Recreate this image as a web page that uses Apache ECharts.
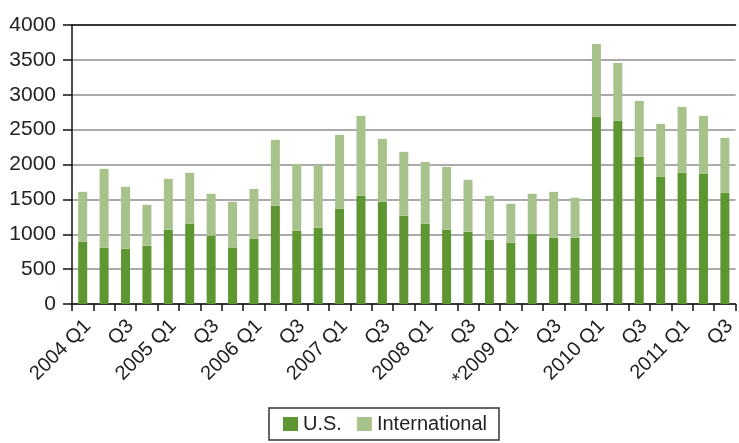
<!DOCTYPE html>
<html>
<head>
<meta charset="utf-8">
<script src="https://cdn.jsdelivr.net/npm/echarts@6/dist/echarts.min.js"></script>
<style>
html,body{margin:0;padding:0;background:#fff;}
#chart{width:739px;height:443px;}
</style>
</head>
<body>
<div id="chart"></div>
<script>
var categories = [
  '2004 Q1','Q2','Q3','Q4',
  '2005 Q1','Q2','Q3','Q4',
  '2006 Q1','Q2','Q3','Q4',
  '2007 Q1','Q2','Q3','Q4',
  '2008 Q1','Q2','Q3','Q4',
  '*2009 Q1','Q2','Q3','Q4',
  '2010 Q1','Q2','Q3','Q4',
  '2011 Q1','Q2','Q3'
];
var usValues = [
  893, 807, 792, 835,
  1064, 1150, 978, 807,
  935, 1408, 1050, 1093,
  1365, 1551, 1465, 1265,
  1150, 1064, 1036, 921,
  878, 1007, 950, 950,
  2682, 2625, 2110, 1823,
  1881, 1866, 1594
];
var totalValues = [
  1608, 1938, 1680, 1422,
  1795, 1881, 1580, 1465,
  1651, 2353, 2009, 1995,
  2425, 2697, 2367, 2181,
  2038, 1966, 1780, 1551,
  1437, 1580, 1608, 1523,
  3728, 3456, 2912, 2582,
  2826, 2697, 2382
];
var internationalValues = totalValues.map(function (t, i) { return t - usValues[i]; });
var yTicks = [0, 500, 1000, 1500, 2000, 2500, 3000, 3500, 4000];

var FONT = '"Liberation Sans", Arial, Helvetica, sans-serif';
var chart = echarts.init(document.getElementById('chart'), null, {renderer: 'canvas'});
chart.setOption({
  animation: false,
  backgroundColor: '#fff',
  textStyle: {fontFamily: FONT},
  grid: {left: 72, right: 2, top: 25, bottom: 139, containLabel: false},
  legend: {
    left: 269, top: 408,
    orient: 'horizontal',
    itemWidth: 15, itemHeight: 14, itemGap: 15,
    padding: [6, 12, 6, 14],
    borderColor: '#333', borderWidth: 1.5,
    textStyle: {fontSize: 20, color: '#222', fontFamily: FONT},
    icon: 'rect',
    data: ['U.S.', 'International']
  },
  xAxis: [{
    type: 'category',
    data: categories,
    boundaryGap: true,
    axisLine: {lineStyle: {color: '#111', width: 1.5}},
    axisTick: {show: true, length: 7, interval: 0, lineStyle: {color: '#111', width: 1.5}},
    axisLabel: {interval: 1, rotate: 45, fontSize: 20, color: '#222', margin: 14,
      verticalAlign: 'top', lineHeight: 14, fontFamily: FONT},
    splitLine: {show: false}
  }, {
    type: 'category',
    data: categories,
    position: 'top',
    axisLine: {show: true, lineStyle: {color: '#111', width: 1.5}},
    axisTick: {show: false},
    axisLabel: {show: false},
    splitLine: {show: false}
  }],
  yAxis: {
    type: 'value',
    min: yTicks[0],
    max: yTicks[yTicks.length - 1],
    interval: yTicks[1] - yTicks[0],
    axisLine: {show: true, lineStyle: {color: '#111', width: 1.5}},
    axisTick: {show: true, length: 9, lineStyle: {color: '#111', width: 1.5}},
    axisLabel: {fontSize: 21, color: '#222', margin: 16, fontFamily: FONT,
      formatter: function (v) { return String(v); }},
    splitLine: {show: true, lineStyle: {color: '#aaa', width: 2}}
  },
  series: [{
    name: 'U.S.',
    type: 'bar',
    stack: 'total',
    barWidth: 9,
    itemStyle: {color: '#5e9732'},
    data: usValues
  }, {
    name: 'International',
    type: 'bar',
    stack: 'total',
    barWidth: 9,
    itemStyle: {color: '#a8c28b'},
    data: internationalValues
  }]
});
</script>
</body>
</html>
